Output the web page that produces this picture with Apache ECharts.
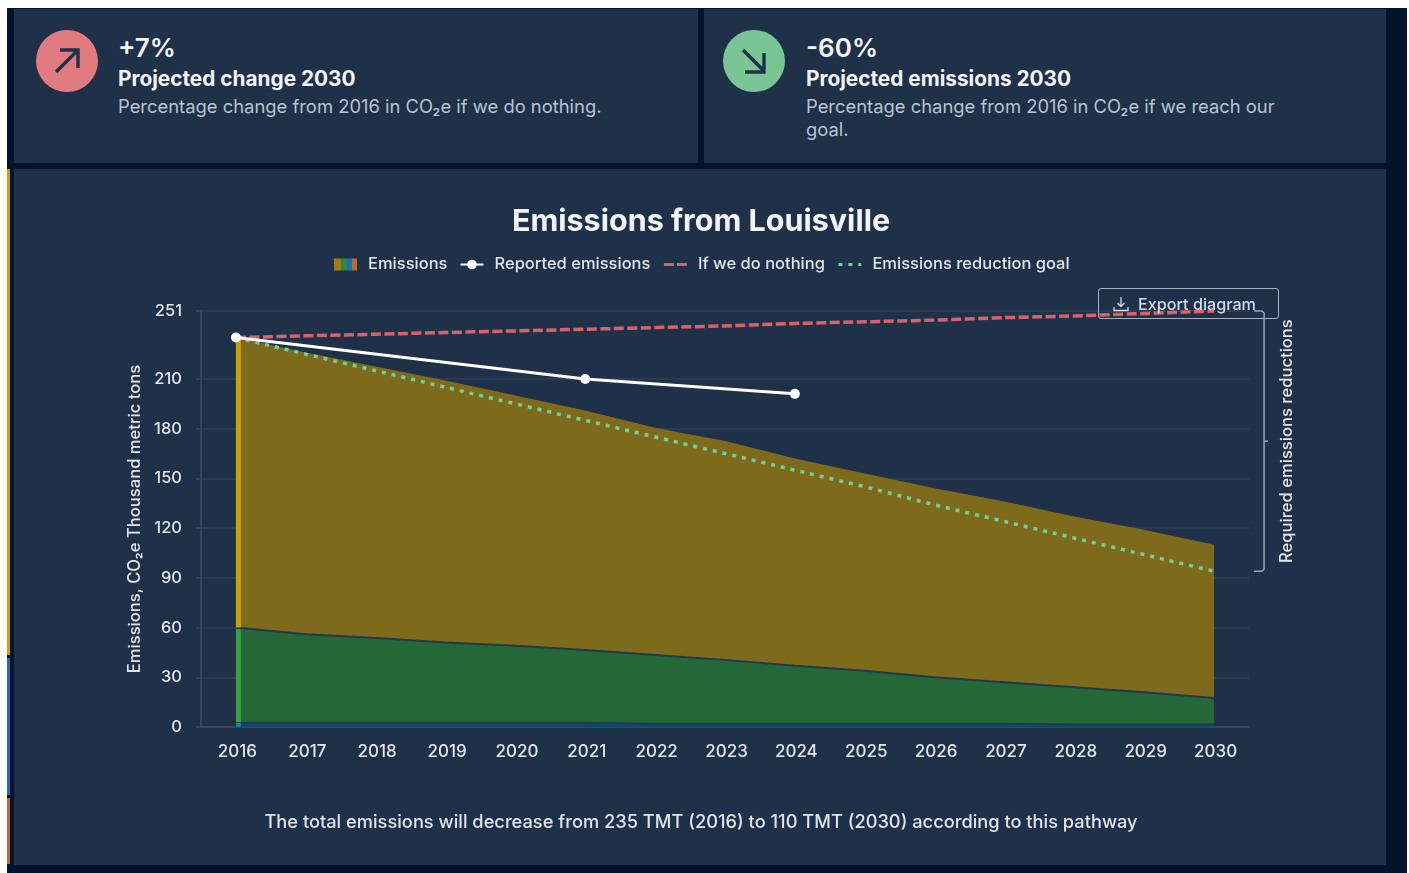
<!DOCTYPE html>
<html>
<head>
<meta charset="utf-8">
<title>Emissions from Louisville</title>
<script src="https://cdn.jsdelivr.net/npm/echarts@6/dist/echarts.min.js"></script>
<style>
  html, body { margin: 0; padding: 0; background: #fff; }
  body { width: 1409px; height: 873px; position: relative; overflow: hidden; font-family: Inter, sans-serif; filter: blur(0.4px); }
  .page { position: absolute; left: 7px; top: 8px; width: 1400px; height: 865px; background: #02132e; }
  .stripe { position: absolute; left: 7px; width: 3px; }
  .card { position: absolute; background: #1f3049; }
  .icon { position: absolute; left: 22px; top: 21px; }
  .big { position: absolute; left: 104px; top: 24px; font-size: 26px; line-height: 30px; font-weight: 600; color: #f2f4f7; }
  .head { position: absolute; left: 104px; top: 57px; font-size: 20.8px; line-height: 26px; font-weight: 700; color: #f2f4f7; white-space: nowrap; }
  .desc { position: absolute; left: 104px; top: 86px; width: 490px; font-size: 18.4px; line-height: 23px; color: #b9c3d0; }
  #chart { position: absolute; left: 14px; top: 169px; width: 1372px; height: 696px; }
  .export { position: absolute; left: 1098px; top: 288px; width: 165px; height: 29px; padding-left: 14px; border: 1.5px solid #a5afbe; border-radius: 3px; color: #d6dbe3; font-size: 16.2px; font-weight: 500; line-height: 31px; white-space: nowrap; }
  .export svg { vertical-align: -2px; margin-right: 9px; }
</style>
</head>
<body>
<div class="page"></div>
<div class="stripe" style="top:169px;height:486px;background:#c9a404"></div>
<div class="stripe" style="top:658px;height:137px;background:#1f6fb0"></div>
<div class="stripe" style="top:798px;height:66px;background:#c0692a"></div>

<!-- top cards -->
<div class="card" style="left:14px;top:9px;width:684px;height:154px">
  <svg class="icon" style="left:22px" width="62" height="62" viewBox="0 0 62 62">
    <circle cx="31" cy="31" r="31" fill="#e07c80"/>
    <path d="M20 42 L41 21 M24 20 H42 V38" fill="none" stroke="#1f3049" stroke-width="3.4"/>
  </svg>
  <div class="big">+7%</div>
  <div class="head">Projected change 2030</div>
  <div class="desc">Percentage change from 2016 in CO₂e if we do nothing.</div>
</div>
<div class="card" style="left:704px;top:9px;width:682px;height:154px">
  <svg class="icon" style="left:19px" width="62" height="62" viewBox="0 0 62 62">
    <circle cx="31" cy="31" r="31" fill="#7ac596"/>
    <path d="M20 20 L41 41 M41 23 V42 H22" fill="none" stroke="#1f3049" stroke-width="3.4"/>
  </svg>
  <div class="big" style="left:102px">-60%</div>
  <div class="head" style="left:102px">Projected emissions 2030</div>
  <div class="desc" style="left:102px">Percentage change from 2016 in CO₂e if we reach our goal.</div>
</div>

<div class="card" style="left:14px;top:169px;width:1372px;height:696px"></div>
<div id="chart"></div>
<div class="export">
  <svg width="16" height="16" viewBox="0 0 16 16" fill="none" stroke="#d6dbe3" stroke-width="1.3"><path d="M8 1 V10 M4.5 7 L8 10.5 L11.5 7 M1 11 V14.5 H15 V11"/></svg>Export diagram
</div>

<script>
// 数据
const years = ['2016','2017','2018','2019','2020','2021','2022','2023','2024','2025','2026','2027','2028','2029','2030']
const yTicks = [0, 30, 60, 90, 120, 150, 180, 210, 251]

// stacked emissions layers (thousand metric tons), bottom to top
const layerTeal = [2.5, 2.5, 2.5, 2.5, 2.5, 2.5, 2, 2, 2, 2, 2, 2, 1.5, 1.5, 1.5]
const layerGreen = [57.5, 53.5, 51.2, 48.5, 46.5, 44, 41.5, 38.5, 35, 32, 28, 25, 22.5, 19.5, 16]
const layerGold = [175, 170, 163.8, 158, 151, 144.5, 137, 132, 125, 119, 114, 109, 103, 98, 92.5]

const reported = [235, null, null, null, null, 210, null, null, 201, null, null, null, null, null, null]
const doNothing = [235, 236, 237, 238, 239, 240, 241, 242, 243.5, 244.5, 245.5, 247, 248, 249.5, 251]
const goal = [235, 225, 215, 205, 195, 185, 175, 165, 155, 145, 134, 124, 114, 104, 94]

const chart = echarts.init(document.getElementById('chart'))

const textColor = '#e1e5ea'
const axisColor = '#3c4c63'
const gridColor = '#2f4058'

// brighter strip on the left side of each layer, at 2016
const edgeData = [
  [0, 0, layerTeal[0], '#0b8a9b'],
  [0, layerTeal[0] + 0.5, layerTeal[0] + layerGreen[0] - 1, '#3aa040'],
  [0, layerTeal[0] + layerGreen[0], layerTeal[0] + layerGreen[0] + layerGold[0], '#c9a404']
]

function renderEdge(params, api) {
  const low = api.coord([api.value(0), api.value(1)])
  const high = api.coord([api.value(0), api.value(2)])
  return {
    type: 'rect',
    shape: { x: low[0], y: high[1], width: 5, height: low[1] - high[1] },
    style: { fill: edgeData[params.dataIndex][3] }
  }
}

// bracket from the do nothing end value down to the goal end value
function renderBracket(params, api) {
  const top = api.coord([14, doNothing[14]])
  const bottom = api.coord([14, goal[14]])
  const x = top[0] + 50
  const mid = (top[1] + bottom[1]) / 2
  return {
    type: 'group',
    children: [
      {
        type: 'polyline',
        shape: { points: [[x - 10, top[1]], [x - 2, top[1]], [x, top[1] + 2], [x, bottom[1] - 2], [x - 2, bottom[1]], [x - 10, bottom[1]]] },
        style: { stroke: '#9aa6b6', lineWidth: 1.5, fill: null }
      },
      {
        type: 'line',
        shape: { x1: x, y1: mid, x2: x + 4, y2: mid },
        style: { stroke: '#9aa6b6', lineWidth: 1.5 }
      },
      {
        type: 'text',
        x: x + 23,
        y: mid,
        rotation: Math.PI / 2,
        style: {
          text: 'Required emissions reductions',
          fill: textColor,
          font: '500 16.6px Inter',
          align: 'center',
          verticalAlign: 'middle'
        }
      }
    ]
  }
}

function areaLayer(data, color, z, line) {
  return {
    name: 'Emissions',
    type: 'line',
    stack: 'emissions',
    data,
    z,
    symbol: 'none',
    itemStyle: { color },
    lineStyle: line ? { color: line, width: 2 } : { width: 0 },
    areaStyle: { color, opacity: 1 }
  }
}

const option = {
  animation: false,
  textStyle: { fontFamily: 'Inter' },
  title: [
    {
      text: 'Emissions from Louisville',
      left: 682,
      top: 32,
      textAlign: 'center',
      textStyle: { color: '#f2f4f7', fontSize: 30.5, fontWeight: 700, fontFamily: 'Inter' }
    },
    {
      text: 'The total emissions will decrease from 235 TMT (2016) to 110 TMT (2030) according to this pathway',
      left: 682,
      top: 640,
      textAlign: 'center',
      textStyle: { color: textColor, fontSize: 18.25, fontWeight: 500, fontFamily: 'Inter' }
    }
  ],
  legend: {
    top: 82,
    left: 315,
    itemWidth: 23,
    itemHeight: 12,
    itemGap: 12,
    textStyle: { color: textColor, fontSize: 16.5, fontWeight: 500, fontFamily: 'Inter', padding: [0, 0, 0, 6] },
    data: [
      {
        name: 'Emissions',
        icon: 'rect',
        itemStyle: {
          color: new echarts.graphic.LinearGradient(0, 0, 1, 0, [
            { offset: 0, color: '#a87a14' }, { offset: 0.3, color: '#a87a14' },
            { offset: 0.3, color: '#2f8a3c' }, { offset: 0.55, color: '#2f8a3c' },
            { offset: 0.55, color: '#1f6fb0' }, { offset: 0.8, color: '#1f6fb0' },
            { offset: 0.8, color: '#c0692a' }, { offset: 1, color: '#c0692a' }
          ])
        }
      },
      { name: 'Reported emissions' },
      { name: 'If we do nothing', itemStyle: { opacity: 0 }, lineStyle: { width: 3, type: [10, 3] } },
      { name: 'Emissions reduction goal', itemStyle: { opacity: 0 }, lineStyle: { width: 3, type: [4, 6] } }
    ]
  },
  grid: { left: 187, right: 137, top: 142, bottom: 138 },
  xAxis: {
    type: 'category',
    data: years,
    axisLine: { lineStyle: { color: axisColor, width: 1.5 } },
    axisTick: { show: false },
    axisLabel: { color: textColor, fontSize: 17, fontWeight: 500, margin: 16, padding: [0, 0, 0, 3], fontFamily: 'Inter' }
  },
  yAxis: {
    type: 'value',
    min: 0,
    max: 251,
    name: 'Emissions, CO₂e Thousand metric tons',
    nameLocation: 'middle',
    nameGap: 58,
    nameTextStyle: { color: textColor, fontSize: 16.6, fontWeight: 500, fontFamily: 'Inter' },
    axisLine: { show: true, lineStyle: { color: axisColor, width: 1.5 } },
    axisTick: { show: true, length: 5, customValues: yTicks, lineStyle: { color: axisColor, width: 1.5 } },
    axisLabel: { color: textColor, fontSize: 16.5, fontWeight: 500, margin: 19, padding: [4, 0, 0, 0], customValues: yTicks, fontFamily: 'Inter' },
    splitLine: { show: true, lineStyle: { color: gridColor, width: 1.5 } }
  },
  series: [
    areaLayer(layerTeal, '#0e4a63', 4, '#1f3a52'),
    areaLayer(layerGreen, '#246838', 3, '#1f3a52'),
    areaLayer(layerGold, '#7d6b1b', 2, null),
    {
      name: 'edges',
      type: 'custom',
      z: 5,
      clip: false,
      data: edgeData.map(d => d.slice(0, 3)),
      renderItem: renderEdge
    },
    {
      name: 'bracket',
      type: 'custom',
      z: 5,
      clip: false,
      silent: true,
      data: [[14, doNothing[14], goal[14]]],
      renderItem: renderBracket
    },
    {
      name: 'If we do nothing',
      type: 'line',
      data: doNothing,
      z: 6,
      symbol: 'none',
      itemStyle: { color: '#d9626a' },
      lineStyle: { color: '#d9626a', width: 3.5, type: [10, 3.5] }
    },
    {
      name: 'Emissions reduction goal',
      type: 'line',
      data: goal,
      z: 7,
      symbol: 'none',
      itemStyle: { color: '#72cfa0' },
      lineStyle: { color: '#72cfa0', width: 3.5, type: [4, 6] }
    },
    {
      name: 'Reported emissions',
      type: 'line',
      data: reported,
      connectNulls: true,
      z: 8,
      symbol: 'circle',
      symbolSize: 10,
      showAllSymbol: true,
      itemStyle: { color: '#ffffff' },
      lineStyle: { color: '#ffffff', width: 3 }
    }
  ]
}

chart.setOption(option)
</script>
</body>
</html>
